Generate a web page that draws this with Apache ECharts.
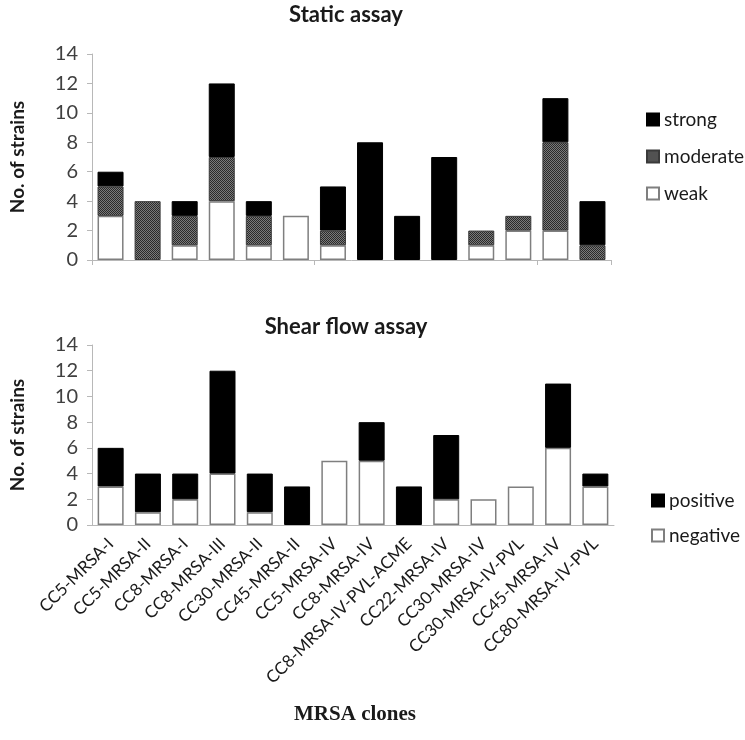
<!DOCTYPE html>
<html><head><meta charset="utf-8">
<script src="https://cdn.jsdelivr.net/npm/echarts@6/dist/echarts.min.js"></script>
<style>html,body{margin:0;padding:0;background:#fff}#c{width:745px;height:740px}</style>
</head><body><div id="c"></div>
<script>
const categories = ['CC5-MRSA-I','CC5-MRSA-II','CC8-MRSA-I','CC8-MRSA-III','CC30-MRSA-II','CC45-MRSA-II','CC5-MRSA-IV','CC8-MRSA-IV','CC8-MRSA-IV-PVL-ACME','CC22-MRSA-IV','CC30-MRSA-IV','CC30-MRSA-IV-PVL','CC45-MRSA-IV','CC80-MRSA-IV-PVL'];
const staticWeak     = [3,0,1,4,1,3,1,0,0,0,1,2,2,0];
const staticModerate = [2,4,2,3,2,0,1,0,0,0,1,1,6,1];
const staticStrong   = [1,0,1,5,1,0,3,8,3,7,0,0,3,3];
const shearNegative  = [3,1,2,4,1,0,5,5,0,2,2,3,6,3];
const shearPositive  = [3,3,2,8,3,3,0,3,3,5,0,0,5,1];
const yTicks = [0,2,4,6,8,10,12,14];
const titles = ['Static assay','Shear flow assay'];
const yName = 'No. of strains';
const xName = 'MRSA clones';

const pc = document.createElement('canvas');
pc.width = 2; pc.height = 2;
const g = pc.getContext('2d');
g.fillStyle = '#7a7a7a'; g.fillRect(0,0,2,2);
g.fillStyle = '#2a2a2a'; g.fillRect(0,0,1,1); g.fillRect(1,1,1,1);
const pattern = {image: pc, repeat: 'repeat'};

const nz = a => a.map(v => v === 0 ? '-' : v);
const FONT = 'Lato';
const BW = 26;

const chart = echarts.init(document.getElementById('c'), null, {renderer: 'canvas'});
const yAxisCommon = {
  type: 'value', min: yTicks[0], max: yTicks[yTicks.length-1], interval: yTicks[1]-yTicks[0],
  axisLine: {show: true, lineStyle: {color: '#b8b8b8', width: 1}},
  axisTick: {show: true, length: 5, lineStyle: {color: '#b8b8b8'}},
  splitLine: {show: false},
  axisLabel: {color: '#404040', fontSize: 20, fontFamily: FONT, margin: 14},
  name: yName, nameLocation: 'middle', nameRotate: 90, nameGap: 65,
  nameTextStyle: {fontFamily: FONT, fontWeight: 'bold', fontSize: 19, color: '#1a1a1a'}
};
const weakStyle = {color: '#ffffff', borderColor: '#7f7f7f', borderWidth: 1.5};
const strongStyle = {color: '#000000', borderColor: '#000000', borderWidth: 1};
const modStyle = {color: pattern, borderColor: '#3a3a3a', borderWidth: 1};
const legendText = {fontFamily: FONT, fontSize: 19, color: '#1a1a1a', padding: [0,0,0,0]};

chart.setOption({
  animation: false,
  backgroundColor: '#ffffff',
  grid: [
    {left: 80, top: 54, width: 531, height: 206},
    {left: 80, top: 345, width: 534, height: 180}
  ],
  xAxis: [
    {gridIndex: 0, type: 'category', data: categories,
     axisLine: {lineStyle: {color: '#b8b8b8'}},
     axisTick: {show: true, length: 5, lineStyle: {color: '#b8b8b8'}},
     axisLabel: {show: false}},
    {gridIndex: 1, type: 'category', data: categories,
     axisLine: {lineStyle: {color: '#b8b8b8'}},
     axisTick: {show: false},
     axisLabel: {rotate: 45, interval: 0, color: '#1a1a1a', fontSize: 17, fontFamily: FONT, margin: 16}}
  ],
  yAxis: [
    Object.assign({gridIndex: 0}, yAxisCommon),
    Object.assign({gridIndex: 1}, yAxisCommon)
  ],
  legend: [
    {orient: 'vertical', left: 641, top: 105, itemWidth: 12, itemHeight: 12, itemGap: 18,
     icon: 'rect', data: ['strong','moderate','weak'], textStyle: legendText},
    {orient: 'vertical', left: 646, top: 486, itemWidth: 12, itemHeight: 12, itemGap: 16,
     icon: 'rect', data: ['positive','negative'], textStyle: legendText}
  ],
  graphic: [
    {type: 'text', x: 346, y: 15, style: {text: titles[0], font: 'bold 22px Lato', fill: '#1a1a1a', align: 'center', verticalAlign: 'middle'}},
    {type: 'text', x: 346, y: 327, style: {text: titles[1], font: 'bold 22px Lato', fill: '#1a1a1a', align: 'center', verticalAlign: 'middle'}},
    {type: 'text', x: 355, y: 715, style: {text: xName, font: 'bold 21px "Liberation Serif"', fill: '#1a1a1a', align: 'center', verticalAlign: 'middle'}}
  ],
  series: [
    {name: 'weak', type: 'bar', stack: 's', xAxisIndex: 0, yAxisIndex: 0, barWidth: BW, data: nz(staticWeak), itemStyle: weakStyle},
    {name: 'moderate', type: 'bar', stack: 's', xAxisIndex: 0, yAxisIndex: 0, barWidth: BW, data: nz(staticModerate), itemStyle: modStyle},
    {name: 'strong', type: 'bar', stack: 's', xAxisIndex: 0, yAxisIndex: 0, barWidth: BW, data: nz(staticStrong), itemStyle: strongStyle},
    {name: 'negative', type: 'bar', stack: 'f', xAxisIndex: 1, yAxisIndex: 1, barWidth: BW, data: nz(shearNegative), itemStyle: weakStyle},
    {name: 'positive', type: 'bar', stack: 'f', xAxisIndex: 1, yAxisIndex: 1, barWidth: BW, data: nz(shearPositive), itemStyle: strongStyle}
  ]
});
</script></body></html>
